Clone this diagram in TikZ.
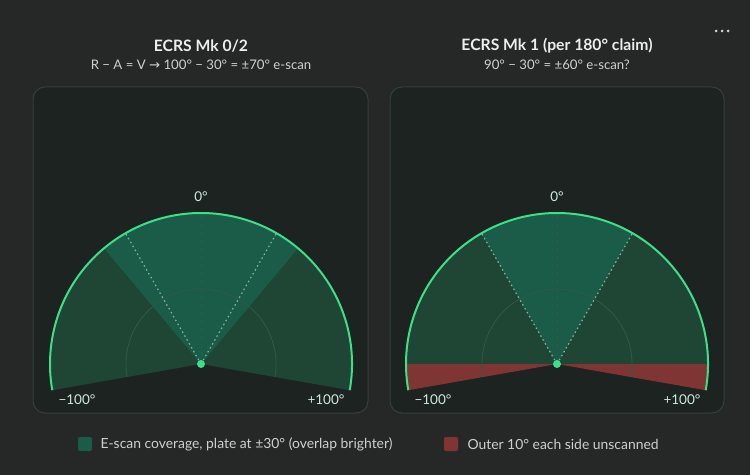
\documentclass[tikz,border=0pt]{standalone}
\usepackage{fontspec}
\setmainfont{Lato}
\newfontfamily\symfont{DejaVu Sans}
\usetikzlibrary{calc}
\definecolor{pagebg}{HTML}{262727}
\definecolor{cardbg}{HTML}{1D2321}
\definecolor{cardline}{HTML}{34403B}
\definecolor{scandark}{HTML}{1F4535}
\definecolor{scanbright}{HTML}{1A5C47}
\definecolor{rimgreen}{HTML}{3EDF89}
\definecolor{redzone}{HTML}{7E3534}
\definecolor{ringgreen}{HTML}{2E5A48}
\definecolor{labeltxt}{HTML}{CDE9DC}
\definecolor{titletxt}{HTML}{EDEDED}
\definecolor{subtxt}{HTML}{CFCFCF}
\def\sector[#1](#2)(#3:#4:#5){\fill[#1] (#2) -- ++(#3:#5) arc (#3:#4:#5) -- cycle;}
\def\centerarc[#1](#2)(#3:#4:#5){\draw[#1] ($(#2)+({#5*cos(#3)},{#5*sin(#3)})$) arc (#3:#4:#5);}
\begin{document}
\begin{tikzpicture}[x=1pt,y=1pt,
  card/.style={draw=cardline, fill=cardbg, line width=1pt, rounded corners=12pt},
  rim/.style={draw=rimgreen, line width=2pt},
  ring/.style={draw=ringgreen, line width=0.8pt},
  zeroline/.style={draw=ringgreen, line width=0.7pt, dash pattern=on 4pt off 4pt},
  plate/.style={draw=labeltxt!60!scanbright, line width=1.2pt, dash pattern=on 1.5pt off 3pt},
  lbl/.style={text=labeltxt, font=\fontsize{13.5}{16}\selectfont},
  title/.style={text=titletxt, font=\fontsize{15.7}{19}\selectfont\bfseries},
  subtitle/.style={text=subtxt, font=\fontsize{13.2}{16}\selectfont},
  legend/.style={text=subtxt, font=\fontsize{13.9}{16}\selectfont, anchor=west}]
			%%%%% START %%%%%
			
			\fill[pagebg] (0,0) rectangle (750,475);
			\useasboundingbox (0,0) rectangle (750,475);
			
			\fill[subtxt] (716,444) circle (1.5);
			\fill[subtxt] (722,444) circle (1.5);
			\fill[subtxt] (728,444) circle (1.5);
			
			\draw[card] (33,62) rectangle (368,388);
			\draw[card] (390,62) rectangle (724,388);
			
			\coordinate (ca) at (201,111);
			\coordinate (cb) at (557,111);
			
			% Mk 0/2
			\node[title] (ta) at (201,429) {ECRS Mk 0/2};
			\node[subtitle] (sa) at (201,410) {R − A = V {\symfont →} 100° − 30° = ±70° e-scan};
			
			\sector[scandark](ca)(-10:190:151);
			\sector[scanbright](ca)(50:130:151);
			\centerarc[ring](ca)(-10:190:75);
			\draw[zeroline] (ca) -- ++(90:151);
			\draw[plate] (ca) -- ++(60:151);
			\draw[plate] (ca) -- ++(120:151);
			\centerarc[rim](ca)(-10:190:151);
			\fill[rimgreen] (ca) circle (4);
			
			\node[lbl] (za) at (201,278) {0°};
			\node[lbl] (la) at (77,75) {−100°};
			\node[lbl] (ra) at (326,75) {+100°};
			
			% Mk 1
			\node[title] (tb) at (557,429) {ECRS Mk 1 (per 180° claim)};
			\node[subtitle] (sb) at (557,410) {90° − 30° = ±60° e-scan?};
			
			\sector[scandark](cb)(0:180:151);
			\sector[redzone](cb)(180:190:151);
			\sector[redzone](cb)(-10:0:151);
			\sector[scanbright](cb)(60:120:151);
			\centerarc[ring](cb)(-10:190:75);
			\draw[zeroline] (cb) -- ++(90:151);
			\draw[plate] (cb) -- ++(60:151);
			\draw[plate] (cb) -- ++(120:151);
			\centerarc[rim](cb)(-10:190:151);
			\fill[rimgreen] (cb) circle (4);
			
			\node[lbl] (zb) at (557,278) {0°};
			\node[lbl] (lb) at (433,75) {−100°};
			\node[lbl] (rb) at (682,75) {+100°};
			
			% legend
			\fill[scanbright, rounded corners=2pt] (78,24) rectangle (92,38);
			\node[legend] (ga) at (97,31) {E-scan coverage, plate at ±30° (overlap brighter)};
			\fill[redzone, rounded corners=2pt] (444,24) rectangle (458,38);
			\node[legend] (gb) at (464,31) {Outer 10° each side unscanned};
			
			%%%%% END %%%%%
\end{tikzpicture}
\end{document}
